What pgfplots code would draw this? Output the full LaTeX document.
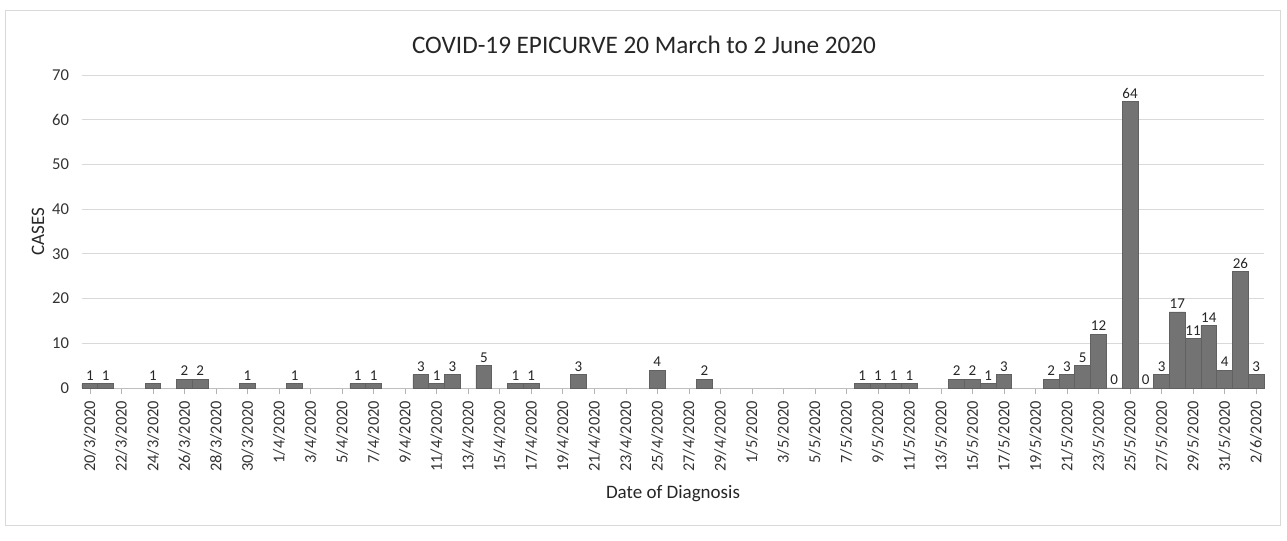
\documentclass[border=0pt]{standalone}
\usepackage{pgfplots}
\pgfplotsset{compat=1.18}
\usepackage{fontspec}
\setmainfont{Carlito}
\begin{document}
\begin{tikzpicture}
\path[use as bounding box] (0pt,0pt) rectangle (643.5pt,270.5pt);
\draw[black!15] (2.5pt,8pt) rectangle (640pt,265.5pt);
\node[font=\fontsize{12.6}{14}\selectfont, text=black!85] at (322pt,248pt) {COVID-19 EPICURVE 20 March to 2 June 2020};
\begin{axis}[
  at={(41pt,76.5pt)}, anchor=south west,
  scale only axis, width=591pt, height=156.5pt,
  xmin=-0.5, xmax=74.5, ymin=0, ymax=70,
  ytick distance=10,
  xtick={0,2,...,74},
  xticklabels={20/3/2020,22/3/2020,24/3/2020,26/3/2020,28/3/2020,30/3/2020,
    1/4/2020,3/4/2020,5/4/2020,7/4/2020,9/4/2020,11/4/2020,13/4/2020,15/4/2020,17/4/2020,19/4/2020,21/4/2020,23/4/2020,25/4/2020,27/4/2020,29/4/2020,
    1/5/2020,3/5/2020,5/5/2020,7/5/2020,9/5/2020,11/5/2020,13/5/2020,15/5/2020,17/5/2020,19/5/2020,21/5/2020,23/5/2020,25/5/2020,27/5/2020,29/5/2020,31/5/2020,2/6/2020},
  x tick label style={rotate=90, anchor=east, font=\fontsize{8.2}{9}\selectfont, text=black!80},
  y tick label style={font=\fontsize{8.3}{9}\selectfont, text=black!80},
  /pgf/number format/assume math mode=true,
  ymajorgrids, major grid style={black!15},
  axis x line*=bottom, axis y line*=left,
  y axis line style={draw=none},
  x axis line style={black!25},
  ytick style={draw=none},
  xtick style={black!30},
  tick align=outside, major tick length=3pt,
  xlabel={Date of Diagnosis},
  ylabel={CASES},
  ylabel shift=-3pt,
  label style={font=\fontsize{9.5}{10}\selectfont, text=black!85},
  clip=false,
]
\addplot[ybar, bar width=1, bar shift=0pt, fill=black!55, draw=black!62,
  nodes near coords, nodes near coords style={font=\fontsize{7.5}{8}\selectfont, text=black!85, inner sep=1.5pt}]
coordinates {
(0,1) (1,1) (4,1) (6,2) (7,2) (10,1) (13,1) (17,1) (18,1)
(21,3) (22,1) (23,3) (25,5) (27,1) (28,1) (31,3) (36,4) (39,2)
(49,1) (50,1) (51,1) (52,1) (55,2) (56,2) (57,1) (58,3)
(61,2) (62,3) (63,5) (64,12) (65,0) (66,64) (67,0) (68,3)
(69,17) (70,11) (71,14) (72,4) (73,26) (74,3)
};
\end{axis}
\end{tikzpicture}
\end{document}
